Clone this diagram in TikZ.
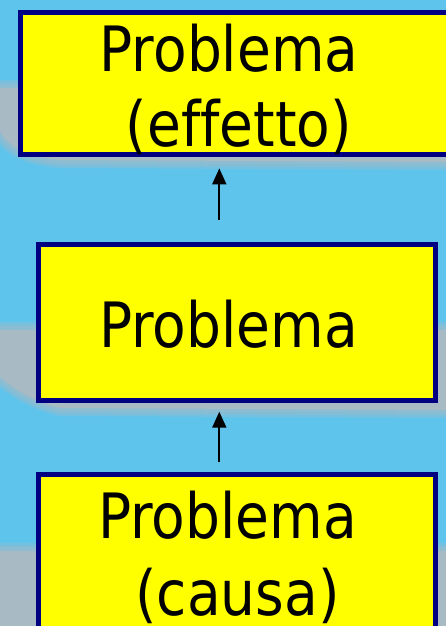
\documentclass[tikz,border=0pt]{standalone}
\usepackage{fontspec}
\newfontfamily\boxfont[FakeStretch=0.88,Ligatures={NoCommon}]{DejaVu Sans}
\usetikzlibrary{arrows.meta,calc}
\definecolor{bgblue}{RGB}{95,196,236}
\definecolor{bandgrey}{RGB}{168,186,196}
\definecolor{boxnavy}{RGB}{0,0,128}
\definecolor{boxyellow}{RGB}{255,255,0}
\tikzset{
  probbox/.style={draw=boxnavy, line width=5pt, fill=boxyellow, inner sep=0pt, outer sep=0pt},
  boxtext/.style={font=\boxfont\fontsize{62.5}{74}\selectfont, text=black, inner sep=0pt, anchor=base},
  causearrow/.style={-{Triangle[width=14pt,length=16pt]}, line width=1.8pt, black},
}
\newcommand\softregion[1]{%
  \foreach \w in {16,11,6} {\draw[bandgrey, line width=\w pt, opacity=0.3, line join=round] #1;}
  \fill[bandgrey] #1;}
\begin{document}
\begin{tikzpicture}[x=1pt,y=-1pt]
\useasboundingbox (0,0) rectangle (446,626);
\clip (0,0) rectangle (446,626);
\fill[bgblue] (0,0) rectangle (446,626);
% background bands
\softregion{(0,88) -- (446,88) -- (446,162) -- (60,160) .. controls (25,157) and (10,148) .. (0,131) -- cycle}
\softregion{(0,330) -- (446,330) -- (446,410) -- (60,408) .. controls (35,402) and (15,390) .. (0,377) -- cycle}
\softregion{(0,551) -- (446,551) -- (446,640) -- (0,640) -- cycle}
% boxes
\node[probbox, minimum width=436pt, minimum height=141.7pt] (top) at (238,83.4) {};
\node[probbox, minimum width=397.3pt, minimum height=156pt] (mid) at (237.2,322.8) {};
\node[probbox, minimum width=397.3pt, minimum height=160pt] (bot) at (237.2,554.2) {};
% texts
\node[boxtext] (topA) at (229,71) {Problema};
\node[boxtext] (topB) at (239,146) {(effetto)};
\node[boxtext] (midA) at (228.5,347) {Problema};
\node[boxtext] (botA) at (227.5,538) {Problema};
\node[boxtext] (botB) at (237.5,615) {(causa)};
% arrows
\coordinate (axis) at (219.3,0);
\draw[causearrow, shorten <=24.8pt, shorten >=14.1pt] (axis |- mid.north) -- (axis |- top.south);
\draw[causearrow, shorten <=11.9pt, shorten >=10.9pt] (axis |- bot.north) -- (axis |- mid.south);
\end{tikzpicture}
\end{document}
